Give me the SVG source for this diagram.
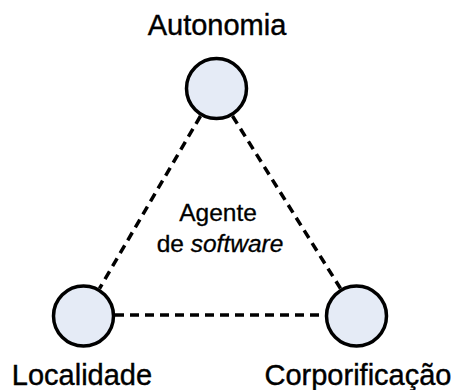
<svg xmlns="http://www.w3.org/2000/svg" width="456" height="390" viewBox="0 0 456 390">
<style>
.node{fill:#e5ebf6;stroke:#000;stroke-width:3.5}
.lbl{font-family:"Liberation Sans",Arial,sans-serif;font-size:29px;fill:#000;stroke:#000;stroke-width:0.4;text-anchor:middle}
.ctr{font-family:"Liberation Sans",Arial,sans-serif;font-size:24.5px;fill:#000;stroke:#000;stroke-width:0.3;text-anchor:middle}
.edge{stroke:#000;stroke-width:3.5;stroke-dasharray:9 6;fill:none}
</style>
<rect width="456" height="390" fill="#fff"/>
<g id="connectors">
<line class="edge" x1="200.5" y1="116" x2="99.5" y2="288.5"/>
<line class="edge" x1="232.5" y1="116" x2="340.5" y2="288.5"/>
<line class="edge" x1="115" y1="315" x2="325" y2="315"/>
</g>
<g id="autonomia">
<circle class="node" cx="216.5" cy="88.5" r="30"/>
<text class="lbl" x="217" y="35">Autonomia</text>
</g>
<g id="localidade">
<circle class="node" cx="83.5" cy="316" r="30"/>
<text class="lbl" x="82" y="385">Localidade</text>
</g>
<g id="corporificacao">
<circle class="node" cx="356.5" cy="316" r="30"/>
<text class="lbl" x="358" y="385">Corporificação</text>
</g>
<g id="agente">
<text class="ctr" x="218" y="221">Agente</text>
<text class="ctr" x="220" y="252">de <tspan font-style="italic">software</tspan></text>
</g>
</svg>
